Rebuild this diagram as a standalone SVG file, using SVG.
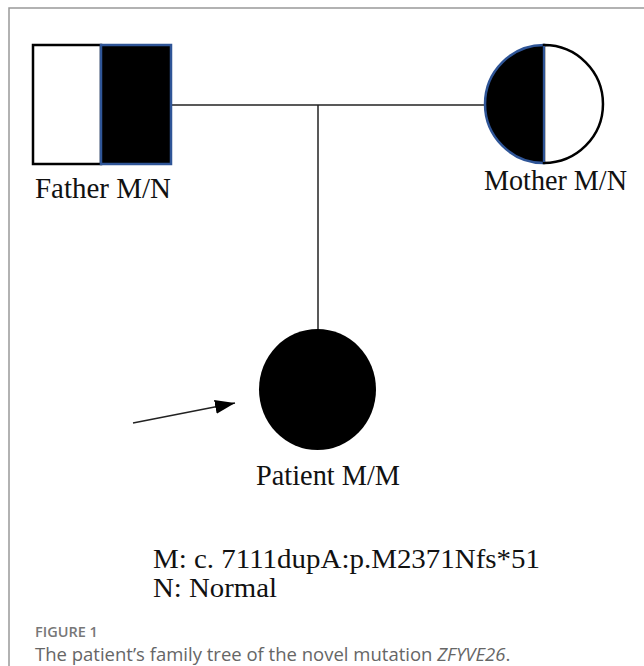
<svg xmlns="http://www.w3.org/2000/svg" width="644" height="666" viewBox="0 0 644 666">
<style>
.lbl{font-family:"Liberation Serif","Times New Roman",serif;font-size:30px;fill:#111}
.lg{font-family:"Liberation Serif","Times New Roman",serif;font-size:28px;fill:#111}
.ln{stroke:#222;stroke-width:1.5;fill:none}
.cap1{font-family:"Open Sans",sans-serif;font-size:14.5px;fill:#777;font-weight:600}
.cap2{font-family:"Open Sans",sans-serif;font-size:18.5px;fill:#666}
</style>
<defs>
<marker id="ah2" viewBox="0 0 20 14" refX="20" refY="7" markerWidth="20" markerHeight="14" markerUnits="userSpaceOnUse" orient="auto">
<path d="M0,0 L20,7 L0,14 z" fill="#000"/>
</marker>
</defs>
<rect width="644" height="666" fill="#fff"/>
<path d="M9,666 V8 H644" fill="none" stroke="#999" stroke-width="1.5"/>
<g id="connectors">
<line class="ln" x1="171" y1="105" x2="488" y2="105"/>
<line class="ln" x1="318" y1="105" x2="318" y2="330"/>
<line x1="133" y1="423" x2="235" y2="403" stroke="#222" stroke-width="1.5" marker-end="url(#ah2)"/>
</g>
<g id="father">
<rect x="33" y="45" width="68" height="119" fill="#fff" stroke="#000" stroke-width="2.5"/>
<rect x="101" y="45" width="70" height="119" fill="#000" stroke="#2f5597" stroke-width="2.5"/>
<text class="lbl" x="35" y="198" textLength="136" lengthAdjust="spacingAndGlyphs">Father M/N</text>
</g>
<g id="mother">
<path d="M544,45 A59,59 0 0 0 544,163 Z" fill="#000" stroke="#2f5597" stroke-width="2.5"/>
<path d="M544,45 A59,59 0 0 1 544,163 Z" fill="#fff" stroke="#000" stroke-width="2.5"/>
<line x1="544" y1="46" x2="544" y2="162" stroke="#2f5597" stroke-width="2"/>
<text class="lbl" x="484" y="190" textLength="143" lengthAdjust="spacingAndGlyphs">Mother M/N</text>
</g>
<g id="patient">
<ellipse cx="317.5" cy="389.5" rx="58.5" ry="60.5" fill="#000"/>
<text class="lbl" x="256" y="485" textLength="144" lengthAdjust="spacingAndGlyphs">Patient M/M</text>
</g>
<g id="legend">
<text class="lg" x="153" y="568" textLength="387" lengthAdjust="spacingAndGlyphs">M: c. 7111dupA:p.M2371Nfs*51</text>
<text class="lg" x="153" y="597" textLength="124" lengthAdjust="spacingAndGlyphs">N: Normal</text>
</g>
<g id="caption">
<text class="cap1" x="35" y="637">FIGURE 1</text>
<text class="cap2" x="35" y="661">The patient’s family tree of the novel mutation <tspan font-style="italic">ZFYVE26</tspan>.</text>
</g>
</svg>
